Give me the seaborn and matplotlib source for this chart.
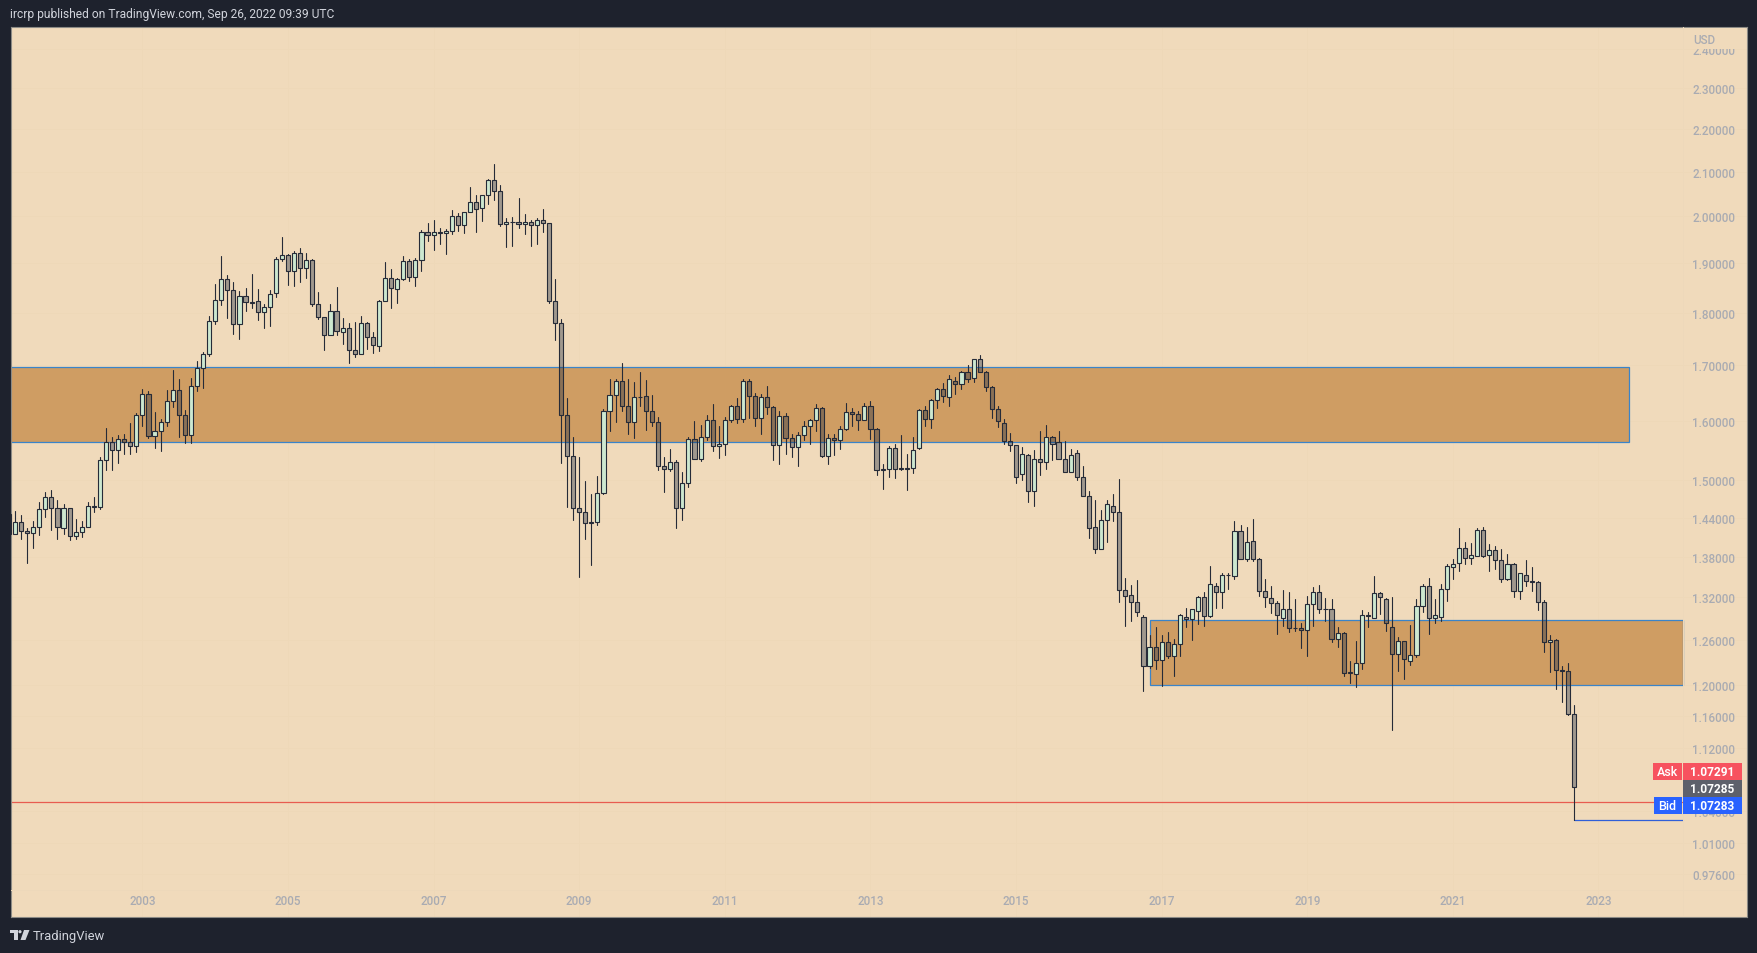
import numpy as np
import pandas as pd
import matplotlib
matplotlib.use("Agg")
import matplotlib.pyplot as plt
from matplotlib.colors import to_rgba
from matplotlib.patches import Polygon, Rectangle, Circle
import seaborn as sns

# monthly GBP/USD candles, Mar 2001 - Sep 2022
opens = [
    1.445, 1.414, 1.433, 1.419, 1.416, 1.425, 1.453, 1.473, 1.455, 1.424,
    1.455, 1.411, 1.418, 1.425, 1.458, 1.456, 1.533, 1.564, 1.550, 1.569,
    1.564, 1.557, 1.610, 1.648, 1.574, 1.583, 1.598, 1.635, 1.655, 1.610,
    1.576, 1.662, 1.695, 1.721, 1.784, 1.825, 1.867, 1.845, 1.778, 1.833,
    1.821, 1.823, 1.801, 1.811, 1.839, 1.909, 1.917, 1.884, 1.921, 1.890,
    1.907, 1.818, 1.792, 1.757, 1.803, 1.763, 1.770, 1.728, 1.721, 1.780,
    1.753, 1.736, 1.823, 1.870, 1.847, 1.867, 1.905, 1.871, 1.907, 1.966,
    1.959, 1.966, 1.964, 1.968, 2.000, 1.981, 2.009, 2.031, 2.018, 2.047,
    2.080, 2.055, 1.983, 1.987, 1.987, 1.983, 1.987, 1.981, 1.991, 1.985,
    1.823, 1.780, 1.610, 1.540, 1.455, 1.449, 1.432, 1.433, 1.479, 1.617,
    1.646, 1.671, 1.627, 1.598, 1.642, 1.644, 1.617, 1.598, 1.524, 1.518,
    1.530, 1.455, 1.495, 1.569, 1.535, 1.572, 1.602, 1.557, 1.560, 1.602,
    1.626, 1.603, 1.671, 1.644, 1.605, 1.642, 1.625, 1.558, 1.608, 1.570,
    1.555, 1.576, 1.591, 1.602, 1.622, 1.540, 1.570, 1.567, 1.586, 1.616,
    1.612, 1.602, 1.626, 1.586, 1.516, 1.518, 1.553, 1.520, 1.519, 1.520,
    1.553, 1.619, 1.603, 1.637, 1.656, 1.642, 1.671, 1.665, 1.687, 1.676,
    1.712, 1.687, 1.660, 1.621, 1.596, 1.566, 1.558, 1.510, 1.541, 1.482,
    1.535, 1.530, 1.572, 1.564, 1.535, 1.514, 1.545, 1.505, 1.474, 1.425,
    1.391, 1.436, 1.458, 1.449, 1.331, 1.324, 1.314, 1.292, 1.225, 1.251,
    1.233, 1.257, 1.238, 1.255, 1.292, 1.289, 1.301, 1.321, 1.294, 1.337,
    1.328, 1.353, 1.351, 1.419, 1.377, 1.404, 1.377, 1.329, 1.319, 1.312,
    1.291, 1.303, 1.277, 1.277, 1.274, 1.311, 1.327, 1.303, 1.303, 1.262,
    1.269, 1.216, 1.214, 1.229, 1.295, 1.291, 1.326, 1.318, 1.278, 1.241,
    1.258, 1.232, 1.240, 1.308, 1.337, 1.291, 1.292, 1.332, 1.365, 1.370,
    1.393, 1.378, 1.381, 1.421, 1.382, 1.390, 1.375, 1.346, 1.369, 1.329,
    1.353, 1.344, 1.342, 1.314, 1.257, 1.260, 1.219, 1.218, 1.162,
]
highs = [
    1.445, 1.450, 1.444, 1.424, 1.435, 1.464, 1.480, 1.484, 1.468, 1.462,
    1.455, 1.437, 1.434, 1.464, 1.472, 1.539, 1.588, 1.573, 1.575, 1.578,
    1.597, 1.614, 1.657, 1.654, 1.616, 1.604, 1.655, 1.692, 1.675, 1.620,
    1.677, 1.709, 1.725, 1.794, 1.858, 1.916, 1.876, 1.862, 1.844, 1.849,
    1.878, 1.848, 1.818, 1.846, 1.913, 1.955, 1.920, 1.926, 1.932, 1.922,
    1.909, 1.842, 1.792, 1.818, 1.852, 1.790, 1.781, 1.783, 1.794, 1.783,
    1.763, 1.826, 1.903, 1.889, 1.870, 1.916, 1.909, 1.911, 1.971, 1.986,
    1.992, 1.975, 1.973, 2.014, 2.007, 2.009, 2.065, 2.047, 2.047, 2.083,
    2.118, 2.070, 1.996, 1.998, 2.040, 2.005, 1.992, 1.996, 2.016, 1.985,
    1.867, 1.788, 1.641, 1.572, 1.539, 1.499, 1.478, 1.507, 1.621, 1.675,
    1.675, 1.705, 1.675, 1.670, 1.688, 1.673, 1.646, 1.607, 1.539, 1.551,
    1.533, 1.514, 1.572, 1.600, 1.593, 1.610, 1.630, 1.591, 1.607, 1.628,
    1.640, 1.675, 1.675, 1.649, 1.648, 1.662, 1.626, 1.617, 1.614, 1.577,
    1.581, 1.600, 1.604, 1.630, 1.625, 1.577, 1.577, 1.591, 1.632, 1.622,
    1.617, 1.632, 1.635, 1.588, 1.526, 1.557, 1.560, 1.576, 1.543, 1.572,
    1.621, 1.626, 1.639, 1.658, 1.667, 1.682, 1.678, 1.689, 1.700, 1.712,
    1.719, 1.689, 1.663, 1.626, 1.603, 1.579, 1.558, 1.555, 1.543, 1.550,
    1.583, 1.593, 1.574, 1.583, 1.566, 1.551, 1.550, 1.524, 1.482, 1.468,
    1.452, 1.468, 1.477, 1.502, 1.348, 1.338, 1.345, 1.295, 1.267, 1.278,
    1.267, 1.271, 1.261, 1.296, 1.305, 1.303, 1.322, 1.327, 1.366, 1.341,
    1.356, 1.356, 1.435, 1.428, 1.425, 1.438, 1.378, 1.346, 1.337, 1.315,
    1.331, 1.327, 1.318, 1.284, 1.322, 1.335, 1.338, 1.319, 1.318, 1.278,
    1.271, 1.232, 1.258, 1.302, 1.299, 1.351, 1.327, 1.319, 1.321, 1.264,
    1.259, 1.281, 1.318, 1.339, 1.348, 1.318, 1.340, 1.369, 1.377, 1.424,
    1.402, 1.401, 1.424, 1.425, 1.399, 1.396, 1.391, 1.384, 1.370, 1.356,
    1.375, 1.365, 1.344, 1.316, 1.267, 1.261, 1.225, 1.229, 1.174,
]
lows = [
    1.414, 1.414, 1.407, 1.370, 1.393, 1.413, 1.441, 1.421, 1.406, 1.415,
    1.405, 1.406, 1.410, 1.425, 1.448, 1.454, 1.516, 1.517, 1.529, 1.543,
    1.543, 1.546, 1.592, 1.571, 1.554, 1.548, 1.592, 1.625, 1.573, 1.562,
    1.562, 1.654, 1.658, 1.718, 1.779, 1.815, 1.791, 1.760, 1.749, 1.803,
    1.809, 1.787, 1.771, 1.775, 1.831, 1.904, 1.855, 1.853, 1.861, 1.869,
    1.813, 1.789, 1.728, 1.757, 1.758, 1.741, 1.705, 1.715, 1.721, 1.730,
    1.724, 1.726, 1.823, 1.810, 1.819, 1.865, 1.863, 1.853, 1.885, 1.946,
    1.927, 1.941, 1.920, 1.961, 1.969, 1.963, 2.009, 1.967, 1.989, 2.026,
    2.037, 1.978, 1.935, 1.937, 1.974, 1.961, 1.937, 1.941, 1.967, 1.819,
    1.747, 1.528, 1.457, 1.436, 1.350, 1.407, 1.367, 1.428, 1.477, 1.582,
    1.599, 1.617, 1.578, 1.571, 1.627, 1.585, 1.591, 1.516, 1.480, 1.515,
    1.423, 1.436, 1.488, 1.535, 1.531, 1.567, 1.549, 1.536, 1.541, 1.598,
    1.596, 1.599, 1.606, 1.592, 1.578, 1.613, 1.534, 1.527, 1.544, 1.538,
    1.524, 1.567, 1.561, 1.582, 1.538, 1.527, 1.541, 1.551, 1.584, 1.592,
    1.584, 1.602, 1.568, 1.508, 1.485, 1.505, 1.503, 1.517, 1.484, 1.511,
    1.551, 1.591, 1.587, 1.622, 1.633, 1.627, 1.647, 1.656, 1.670, 1.670,
    1.687, 1.654, 1.606, 1.589, 1.560, 1.549, 1.496, 1.500, 1.464, 1.458,
    1.509, 1.518, 1.534, 1.535, 1.514, 1.514, 1.501, 1.474, 1.409, 1.385,
    1.391, 1.402, 1.434, 1.313, 1.280, 1.287, 1.293, 1.192, 1.222, 1.221,
    1.199, 1.235, 1.212, 1.238, 1.278, 1.260, 1.282, 1.279, 1.292, 1.305,
    1.305, 1.332, 1.346, 1.377, 1.374, 1.374, 1.322, 1.306, 1.297, 1.268,
    1.279, 1.271, 1.273, 1.249, 1.238, 1.279, 1.297, 1.287, 1.257, 1.251,
    1.212, 1.202, 1.197, 1.221, 1.278, 1.291, 1.296, 1.273, 1.142, 1.218,
    1.208, 1.226, 1.237, 1.299, 1.268, 1.283, 1.286, 1.315, 1.346, 1.358,
    1.369, 1.369, 1.381, 1.379, 1.358, 1.362, 1.342, 1.345, 1.321, 1.318,
    1.337, 1.329, 1.302, 1.243, 1.217, 1.194, 1.177, 1.161, 1.035,
]
closes = [
    1.414, 1.433, 1.419, 1.416, 1.425, 1.453, 1.473, 1.455, 1.425, 1.455,
    1.411, 1.418, 1.425, 1.458, 1.456, 1.533, 1.564, 1.550, 1.569, 1.564,
    1.557, 1.610, 1.648, 1.574, 1.583, 1.598, 1.635, 1.655, 1.610, 1.576,
    1.662, 1.695, 1.721, 1.784, 1.825, 1.867, 1.845, 1.778, 1.833, 1.821,
    1.820, 1.801, 1.811, 1.837, 1.909, 1.917, 1.884, 1.921, 1.890, 1.907,
    1.818, 1.792, 1.757, 1.803, 1.765, 1.770, 1.728, 1.721, 1.780, 1.753,
    1.738, 1.823, 1.870, 1.849, 1.867, 1.905, 1.871, 1.907, 1.966, 1.959,
    1.966, 1.964, 1.968, 2.000, 1.981, 2.009, 2.031, 2.016, 2.047, 2.080,
    2.055, 1.983, 1.987, 1.987, 1.983, 1.987, 1.981, 1.991, 1.985, 1.823,
    1.780, 1.610, 1.540, 1.455, 1.449, 1.432, 1.433, 1.479, 1.617, 1.646,
    1.671, 1.627, 1.598, 1.642, 1.643, 1.617, 1.598, 1.524, 1.518, 1.530,
    1.455, 1.495, 1.569, 1.535, 1.572, 1.602, 1.557, 1.560, 1.602, 1.626,
    1.603, 1.671, 1.644, 1.605, 1.642, 1.625, 1.558, 1.608, 1.570, 1.555,
    1.576, 1.591, 1.602, 1.622, 1.540, 1.570, 1.567, 1.586, 1.616, 1.612,
    1.602, 1.626, 1.586, 1.516, 1.519, 1.553, 1.519, 1.519, 1.520, 1.550,
    1.619, 1.603, 1.637, 1.656, 1.644, 1.675, 1.665, 1.687, 1.675, 1.712,
    1.687, 1.660, 1.621, 1.600, 1.566, 1.558, 1.505, 1.543, 1.482, 1.535,
    1.530, 1.572, 1.561, 1.535, 1.514, 1.541, 1.505, 1.474, 1.424, 1.391,
    1.436, 1.461, 1.449, 1.331, 1.322, 1.314, 1.299, 1.225, 1.251, 1.233,
    1.257, 1.238, 1.255, 1.295, 1.289, 1.303, 1.321, 1.294, 1.339, 1.328,
    1.353, 1.352, 1.419, 1.377, 1.402, 1.377, 1.329, 1.321, 1.312, 1.295,
    1.303, 1.277, 1.276, 1.274, 1.311, 1.327, 1.303, 1.303, 1.262, 1.269,
    1.216, 1.216, 1.229, 1.295, 1.294, 1.326, 1.321, 1.283, 1.241, 1.258,
    1.234, 1.240, 1.308, 1.337, 1.291, 1.295, 1.332, 1.366, 1.369, 1.393,
    1.378, 1.382, 1.421, 1.381, 1.390, 1.375, 1.346, 1.369, 1.329, 1.355,
    1.344, 1.343, 1.314, 1.257, 1.260, 1.219, 1.218, 1.162, 1.0729,
]

start_year = 2001
start_month = 3
year_labels = [2003, 2005, 2007, 2009, 2011, 2013, 2015, 2017, 2019, 2021, 2023]
price_ticks = [2.4, 2.3, 2.2, 2.1, 2.0, 1.9, 1.8, 1.7, 1.6, 1.5, 1.44, 1.38,
               1.32, 1.26, 1.2, 1.16, 1.12, 1.0455, 1.01, 0.976]
price_labels = ["2.40000", "2.30000", "2.20000", "2.10000", "2.00000", "1.90000", "1.80000",
                "1.70000", "1.60000", "1.50000", "1.44000", "1.38000", "1.32000", "1.26000",
                "1.20000", "1.16000", "1.12000", "1.04000", "1.01000", "0.97600"]

zone_upper = [1.5631, 1.6963]
zone_lower = [1.1992, 1.2873]
zone_upper_end = 267.0
zone_lower_span = [188.0, 275.9]
red_level = 1.0556
low_level = 1.035
ask_price = "1.07291"
last_price = "1.07285"
bid_price = "1.07283"

# colours
frameColor = "#1e222d"
paneColor = "#f0dabb"
gridColor = "#eed8b8"
zoneColor = "#cf9d63"
zoneEdge = "#3a84c9"
wickColor = "#262b38"
upColor = "#cde8d0"
downColor = to_rgba("#14233f", 0.36)
labelColor = "#a9abb2"
fontName = "Roboto"

W, H = 1757, 954
paneLeft, paneRight, paneTop, paneBottom = 10.5, 1747, 27.5, 918
# px position of one month and of the Jan 2003 candle
monthPx, jan2003Px = 6.067, 142.4

sns.set_theme(style="white", rc={"font.family": fontName})
fig = plt.figure(figsize=(W / 100, H / 100), dpi=100, facecolor=frameColor)
ax = fig.add_axes([paneLeft / W, 1 - paneBottom / H, (paneRight - paneLeft) / W, (paneBottom - paneTop) / H])
ax.set_facecolor(paneColor)
ax.set_yscale("log")
ax.set_xlim(22 + (paneLeft - jan2003Px) / monthPx, 22 + (paneRight - jan2003Px) / monthPx)
ax.set_ylim(0.9315, 2.460)

idx = np.arange(len(closes))
o, h, l, c = map(np.array, (opens, highs, lows, closes))
top = np.maximum(o, c)
bot = np.minimum(o, c)
up = c >= o

# price zones and levels stay under the candles
for x0, x1, (y0, y1) in [(ax.get_xlim()[0] - 5, zone_upper_end, zone_upper), (zone_lower_span[0], zone_lower_span[1], zone_lower)]:
    ax.add_patch(Rectangle((x0, y0), x1 - x0, y1 - y0, facecolor=zoneColor, edgecolor=zoneEdge, linewidth=0.9, zorder=1))
ax.plot([ax.get_xlim()[0], zone_lower_span[1]], [red_level, red_level], color="#e85c50", lw=0.9, zorder=1.5)
ax.plot([idx[-1], zone_lower_span[1]], [low_level, low_level], color="#2f5fd8", lw=0.9, zorder=1.5)

# wicks: two pieces per candle so they do not show through the see-through bodies
wicks = pd.DataFrame({
    "x": np.concatenate([idx, idx, idx, idx]),
    "price": np.concatenate([h, top, bot, l]),
    "piece": np.concatenate([idx * 2, idx * 2, idx * 2 + 1, idx * 2 + 1]),
})
sns.lineplot(data=wicks, x="x", y="price", units="piece", estimator=None, sort=False,
             color=wickColor, linewidth=0.8, legend=False, ax=ax, zorder=3)

ax.bar(idx, np.maximum(top - bot, 0.0006), bottom=bot, width=0.68,
       color=[upColor if u else downColor for u in up],
       edgecolor=wickColor, linewidth=0.8, zorder=4)

# axis labels live inside the pane, as on the TradingView chart
ax.set_xticks([(y - start_year) * 12 - (start_month - 1) for y in year_labels], [str(y) for y in year_labels])
ax.set_yticks(price_ticks, price_labels)
ax.minorticks_off()
ax.yaxis.tick_right()
ax.tick_params(axis="x", length=0, pad=-16.5, labelsize=8.4, labelcolor=labelColor)
ax.tick_params(axis="y", length=0, pad=-8.6, labelsize=8.4, labelcolor=labelColor)
for t in ax.get_yticklabels():
    t.set_ha("right")
    t.set_fontweight("medium")
for t in ax.get_xticklabels():
    t.set_fontweight("medium")
ax.set_xlabel("")
ax.set_ylabel("")
ax.grid(True, color=gridColor, linewidth=0.7, zorder=0)
ax.set_axisbelow(True)
for s in ax.spines.values():
    s.set_color("#8b8a85")
    s.set_linewidth(0.8)


def pxBox(x0, y0, x1, y1, color):
    fig.add_artist(Rectangle((x0, H - y1), x1 - x0, y1 - y0, facecolor=color, edgecolor="none",
                             transform=None, zorder=6))


def pxText(x, y, s, color, size=8.4, ha="left", weight="normal"):
    fig.text(x / W, 1 - y / H, s, color=color, fontsize=size, ha=ha, va="center",
             fontweight=weight, family=fontName, zorder=7)


# cover the top price label below USD, boundaries of the two axis strips
pxBox(1684, 29, 1745, 49.5, paneColor)
pxBox(10.5, 891.3, 1746, 892, "#edd8ba")
pxBox(1683, 28, 1683.7, 917, "#edd8ba")
pxText(1693, 40.5, "USD", labelColor, weight="medium")

pxBox(1653, 764, 1682, 780.7, "#f7525f")
pxBox(1683, 764, 1742, 780.7, "#f7525f")
pxBox(1683, 781, 1742, 797.6, "#5d606b")
pxBox(1654, 798, 1682, 814.5, "#2962ff")
pxBox(1683, 798, 1742, 814.5, "#2962ff")
pxText(1667.5, 772.5, "Ask", "white", size=9, ha="center", weight="medium")
pxText(1712.5, 772.5, ask_price, "white", size=8.6, ha="center", weight="bold")
pxText(1712.5, 789.5, last_price, "white", size=8.6, ha="center", weight="bold")
pxText(1667.5, 806.5, "Bid", "white", size=9, ha="center", weight="medium")
pxText(1712.5, 806.5, bid_price, "white", size=8.6, ha="center", weight="bold")

# header and footer
pxText(10, 14.5, "ircrp published on TradingView.com, Sep 26, 2022 09:39 UTC", "#d1d4dc", size=8.65)
pxText(33, 936.5, "TradingView", "#d1d4dc", size=9.4)
logoColor = "#d1d4dc"
fig.add_artist(Polygon([(10, H - 931), (17.5, H - 931), (17.5, H - 941), (14, H - 941), (14, H - 934), (10, H - 934)],
                       closed=True, facecolor=logoColor, edgecolor="none", transform=None))
fig.add_artist(Circle((20, H - 932.7), 1.6, facecolor=logoColor, edgecolor="none", transform=None))
fig.add_artist(Polygon([(24, H - 931), (29.5, H - 931), (25.5, H - 941), (20.5, H - 941)],
                       closed=True, facecolor=logoColor, edgecolor="none", transform=None))

fig.savefig("out.png", dpi=100, facecolor=frameColor)
